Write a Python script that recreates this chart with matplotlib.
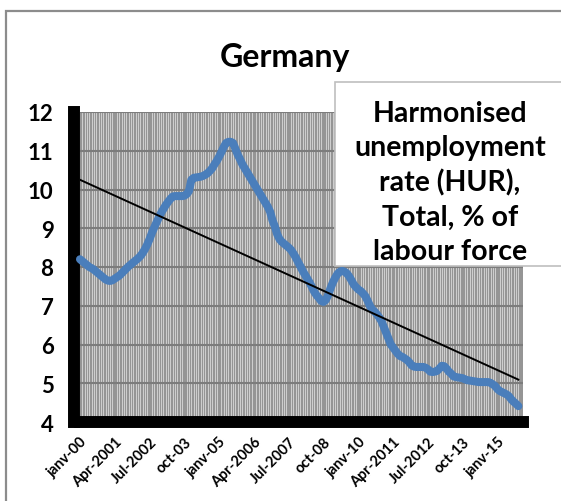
import numpy as np
import matplotlib
matplotlib.use("Agg")
import matplotlib.pyplot as plt
from matplotlib.patches import Rectangle

plt.rcParams['font.family'] = ['Lato', 'DejaVu Sans']
plt.rcParams['font.weight'] = 'bold'

# monthly harmonised unemployment rate, Germany, Jan 2000 .. Oct 2015
hur_2000 = [8.2, 8.15, 8.1, 8.05, 8.0, 7.97, 7.93, 7.88, 7.83, 7.78, 7.73, 7.68]
hur_2001 = [7.65, 7.64, 7.66, 7.7, 7.74, 7.78, 7.84, 7.9, 7.96, 8.02, 8.07, 8.12]
hur_2002 = [8.17, 8.22, 8.28, 8.36, 8.46, 8.58, 8.72, 8.88, 9.02, 9.15, 9.28, 9.4]
hur_2003 = [9.5, 9.6, 9.68, 9.76, 9.82, 9.83, 9.83, 9.83, 9.83, 9.84, 9.88, 9.96]
hur_2004 = [10.25, 10.3, 10.31, 10.32, 10.33, 10.35, 10.38, 10.42, 10.48, 10.55, 10.65, 10.74]
hur_2005 = [10.85, 10.97, 11.1, 11.2, 11.23, 11.23, 11.2, 11.05, 10.9, 10.78, 10.65, 10.55]
hur_2006 = [10.45, 10.35, 10.25, 10.15, 10.05, 9.95, 9.85, 9.75, 9.65, 9.55, 9.42, 9.2]
hur_2007 = [9.05, 8.85, 8.72, 8.65, 8.6, 8.55, 8.5, 8.44, 8.35, 8.25, 8.13, 8.02]
hur_2008 = [7.9, 7.8, 7.7, 7.6, 7.48, 7.36, 7.27, 7.2, 7.12, 7.1, 7.15, 7.28]
hur_2009 = [7.45, 7.6, 7.72, 7.82, 7.88, 7.9, 7.88, 7.84, 7.76, 7.66, 7.55, 7.48]
hur_2010 = [7.42, 7.38, 7.32, 7.25, 7.13, 7.0, 6.9, 6.85, 6.78, 6.7, 6.6, 6.45]
hur_2011 = [6.3, 6.15, 6.0, 5.92, 5.84, 5.76, 5.7, 5.68, 5.64, 5.6, 5.54, 5.46]
hur_2012 = [5.43, 5.42, 5.42, 5.42, 5.42, 5.4, 5.36, 5.3, 5.29, 5.3, 5.32, 5.38]
hur_2013 = [5.45, 5.44, 5.38, 5.3, 5.25, 5.18, 5.16, 5.15, 5.14, 5.13, 5.1, 5.08]
hur_2014 = [5.07, 5.06, 5.05, 5.04, 5.03, 5.03, 5.03, 5.03, 5.03, 5.01, 4.97, 4.93]
hur_2015 = [4.85, 4.8, 4.77, 4.74, 4.71, 4.66, 4.58, 4.52, 4.47, 4.41]

hur = (hur_2000 + hur_2001 + hur_2002 + hur_2003 + hur_2004 + hur_2005 + hur_2006 + hur_2007
       + hur_2008 + hur_2009 + hur_2010 + hur_2011 + hur_2012 + hur_2013 + hur_2014 + hur_2015)
months = np.arange(len(hur))

tick_pos = [0, 15, 30, 45, 60, 75, 90, 105, 120, 135, 150, 165, 180]
tick_lab = ["janv-00", "Apr-2001", "Jul-2002", "oct-03", "janv-05", "Apr-2006", "Jul-2007",
            "oct-08", "janv-10", "Apr-2011", "Jul-2012", "oct-13", "janv-15"]
y_ticks = [4, 5, 6, 7, 8, 9, 10, 11, 12]

W, H = 561, 502
fig = plt.figure(figsize=(W/100, H/100), dpi=100)
ax = fig.add_axes([80/W, 1-423/H, (523-80)/W, (423-113)/H])

ax.set_facecolor("#959595")
ax.set_xticks(months, minor=True)
ax.grid(which="minor", axis="x", color="#dadada", lw=0.6)
ax.grid(which="major", axis="y", color="#7c7c7c", lw=1.5)
ax.set_axisbelow(True)

ax.plot(months, hur, color="#4a7ebb", lw=5.8, solid_capstyle="round", solid_joinstyle="round", zorder=4, clip_on=False)
k, b = np.polyfit(months, hur, 1)
ax.plot(months, k*months + b, color="black", lw=1.4, zorder=5)

ax.set_xlim(0, 191)
ax.set_ylim(4, 12)
ax.set_yticks(y_ticks)
ax.set_xticks(tick_pos)
ax.tick_params(axis="y", labelsize=16, length=2, width=4, pad=13, direction="out")
ax.tick_params(axis="x", which="both", labelsize=10.5, length=0, pad=9)
ax.tick_params(axis="y", which="minor", length=0)
ax.set_yticklabels([str(v) for v in y_ticks], fontsize=16, fontweight="bold")
ax.set_xticklabels(tick_lab, rotation=45, ha="right", va="top", rotation_mode="anchor",
                   fontsize=10.5, fontweight="bold")

for s in ["top", "right"]:
    ax.spines[s].set_visible(False)
ax.spines["left"].set_linewidth(8.6)
ax.spines["left"].set_position(("outward", 4))
ax.spines["bottom"].set_linewidth(8.6)
ax.spines["left"].set_zorder(3)
ax.spines["bottom"].set_zorder(3)

fig.text(285/W, 1-57/H, "Germany", ha="center", va="center", fontsize=23, fontweight="bold")

box = Rectangle((335/W, 1-267/H), 1.0, (267-83)/H, transform=fig.transFigure,
                facecolor="white", edgecolor="#bfbfbf", lw=1.2, zorder=10, clip_on=False)
fig.add_artist(box)
fig.text(450/W, 1-183/H, "Harmonised\nunemployment\nrate (HUR),\nTotal, % of\nlabour force",
         ha="center", va="center", fontsize=20.5, fontweight="bold", linespacing=1.38, zorder=11)

frame = Rectangle((6/W, -0.1), 1.2, 1.1 - 12/H, transform=fig.transFigure,
                  facecolor="none", edgecolor="#8c8c8c", lw=1.6, zorder=12, clip_on=False)
fig.add_artist(frame)

fig.savefig("out.png", dpi=100)
